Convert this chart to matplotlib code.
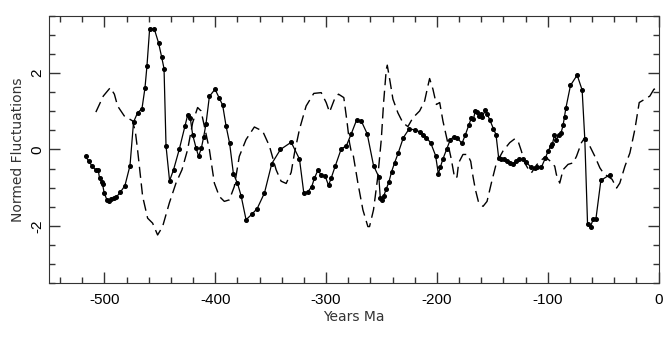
import matplotlib.pyplot as plt
from matplotlib.ticker import MultipleLocator

plt.rcParams['axes.unicode_minus'] = False

# Solid series (with dots)
solid_years = [-517, -514, -511, -508, -505.6, -504.4, -502.6, -501.7, -500.2, -497.7,
               -495.9, -493.6, -491.1, -489.3, -485.7, -481.5, -476.9, -473.7, -470.1, -466.1,
               -463.4, -461.6, -459.2, -455.0, -451.1, -448.4, -446.2, -444.4, -441.2, -437.6,
               -432.4, -427.3, -424.9, -422.5, -420.4, -417.3, -415.0, -412.5, -410.5, -408.3,
               -405.3, -400.2, -396.3, -393.3, -390.2, -387.0, -383.6, -380.0, -376.7, -372.2,
               -367.1, -362.2, -355.6, -349.0, -341.2, -331.5, -324.0, -320.1, -316.5, -312.9,
               -310.5, -307.5, -304.4, -300.8, -297.8, -295.4, -291.8, -286.3, -281.8, -277.3,
               -272.5, -268.3, -262.9, -257.2, -252.4, -251.1, -249.7, -248.1, -245.7, -243.4,
               -240.9, -238.2, -234.9, -230.3, -225.3, -219.5, -215.6, -212.6, -209.6, -205.7,
               -201.2, -198.7, -196.9, -194.6, -191.0, -187.9, -184.9, -181.9, -177.4, -174.3,
               -171.4, -168.9, -167.1, -165.3, -163.8, -162.3, -160.5, -159.3, -156.3, -154.5,
               -152.1, -149.1, -146.7, -144.3, -141.8, -139.5, -137.0, -134.0, -131.0, -128.6,
               -125.9, -122.3, -119.3, -115.4, -111.7, -109.3, -105.7, -102.1, -99.7, -97.3,
               -95.8, -94.0, -92.2, -90.3, -88.0, -86.2, -84.9, -83.7, -79.5, -73.5,
               -69.0, -66.6, -64.1, -61.4, -59.1, -56.6, -52.1, -44.0]
solid_values = [-0.18, -0.31, -0.44, -0.53, -0.54, -0.75, -0.85, -0.90, -1.14, -1.32,
                -1.34, -1.30, -1.27, -1.25, -1.12, -0.95, -0.42, 0.72, 0.96, 1.07,
                1.61, 2.19, 3.16, 3.16, 2.79, 2.43, 2.12, 0.09, -0.82, -0.53,
                0.01, 0.62, 0.90, 0.82, 0.39, 0.04, -0.18, 0.04, 0.32, 0.68,
                1.39, 1.58, 1.34, 1.16, 0.61, 0.16, -0.64, -0.88, -1.21, -1.84,
                -1.70, -1.55, -1.14, -0.37, 0.0, 0.19, -0.25, -1.14, -1.11, -0.97,
                -0.75, -0.55, -0.66, -0.70, -0.94, -0.75, -0.44, 0.02, 0.09, 0.41,
                0.77, 0.75, 0.41, -0.42, -0.72, -1.27, -1.32, -1.23, -1.03, -0.86,
                -0.58, -0.35, -0.09, 0.31, 0.53, 0.52, 0.46, 0.39, 0.31, 0.18,
                -0.16, -0.64, -0.46, -0.25, 0.02, 0.26, 0.33, 0.31, 0.16, 0.39,
                0.63, 0.83, 0.80, 1.01, 0.97, 0.88, 0.94, 0.84, 1.03, 0.92,
                0.76, 0.55, 0.39, -0.22, -0.25, -0.26, -0.31, -0.35, -0.39, -0.31,
                -0.26, -0.26, -0.33, -0.46, -0.48, -0.46, -0.46, -0.22, -0.04, 0.09,
                0.15, 0.37, 0.26, 0.38, 0.44, 0.63, 0.86, 1.08, 1.68, 1.95,
                1.56, 0.28, -1.96, -2.02, -1.83, -1.83, -0.81, -0.66]

# Dashed series
dashed_years = [-507.7, -501, -494.7, -491, -488.1, -482.1, -474.6, -472, -470.1, -465.5,
                -461.0, -456.5, -452.0, -447.5, -441.4, -435.4, -430.0, -424.9, -420.4, -415.9,
                -412.8, -409.8, -405.3, -400.8, -396.3, -391.8, -387.3, -382.8, -378.3, -372.2,
                -364.7, -357.2, -351.1, -345.1, -340.6, -336.0, -331.5, -328.5, -324.0, -318.0,
                -311.1, -304.4, -299.9, -296.9, -292.4, -288.8, -284.0, -281.0, -278.9, -277.0,
                -275.5, -271.3, -266.8, -262.3, -260.8, -257.2, -253.3, -250.2, -248.1, -245.7,
                -244.8, -242.1, -239.7, -235.2, -230.7, -226.2, -221.7, -215.6, -211.1, -208.1,
                -206.6, -203.6, -200.5, -197.5, -194.6, -191.0, -187.0, -184.0, -181.9, -180.4,
                -176.5, -172.5, -169.5, -167.5, -165.3, -162.3, -158.4, -154.8, -150.9, -146.3,
                -140.4, -134.3, -129.8, -126.8, -123.8, -120.8, -117.2, -114.7, -110.0, -105.1,
                -102.1, -98.0, -93.7, -92.2, -89.2, -86.2, -81.7, -77.1, -74.1, -69.6,
                -66.6, -62.1, -57.5, -53.0, -50.0, -47.0, -42.0, -37.9, -35.0, -30.4,
                -25.9, -21.4, -17.5, -12.4, -7.9, -4.2, 0.0]
dashed_values = [0.98, 1.40, 1.62, 1.45, 1.14, 0.88, 0.75, 0.45, 0.0, -1.23,
                 -1.80, -1.93, -2.24, -2.02, -1.40, -0.88, -0.53, 0.0, 0.70, 1.10,
                 1.01, 0.61, 0.0, -0.88, -1.23, -1.36, -1.32, -0.97, -0.18, 0.26,
                 0.59, 0.48, 0.09, -0.53, -0.83, -0.89, -0.60, -0.09, 0.53, 1.14,
                 1.47, 1.49, 1.23, 0.98, 1.32, 1.45, 1.36, 0.70, 0.18, -0.10,
                 -0.15, -0.88, -1.58, -2.02, -2.02, -1.58, -0.70, 0.26, 1.23, 2.10,
                 2.21, 1.75, 1.32, 0.96, 0.70, 0.60, 0.83, 1.01, 1.27, 1.67,
                 1.86, 1.58, 1.18, 1.23, 0.75, 0.28, -0.26, -0.75, -0.72, -0.35,
                 -0.13, -0.13, -0.31, -0.70, -1.05, -1.40, -1.49, -1.36, -0.88, -0.35,
                 -0.04, 0.18, 0.28, 0.22, -0.04, -0.35, -0.53, -0.61, -0.40, -0.26,
                 -0.19, -0.30, -0.44, -0.66, -0.88, -0.53, -0.39, -0.35, -0.18, 0.18,
                 0.31, 0.09, -0.18, -0.48, -0.61, -0.68, -0.78, -1.01, -0.88, -0.44,
                 -0.09, 0.53, 1.23, 1.32, 1.40, 1.58, 1.60]

fig = plt.figure(figsize=(6.7, 3.39), dpi=100)
ax = fig.add_axes([0.0731, 0.165, 0.9099, 0.788])

ax.plot(dashed_years, dashed_values, color="black", linewidth=1.0,
        linestyle=(0, (8, 4)))
ax.plot(solid_years, solid_values, color="black", linewidth=0.9,
        marker="o", markersize=2.6)

ax.set_xlim(-550, 0)
ax.set_ylim(-3.5, 3.5)
ax.xaxis.set_major_locator(MultipleLocator(100))
ax.xaxis.set_minor_locator(MultipleLocator(20))
ax.yaxis.set_major_locator(MultipleLocator(2))
ax.yaxis.set_minor_locator(MultipleLocator(0.5))
ax.tick_params(which="both", direction="in", top=True, right=True,
               colors="#333333", labelcolor="black")
ax.tick_params(which="major", length=8, width=1, labelsize=11)
ax.tick_params(which="minor", length=4, width=1)
ax.tick_params(axis="x", which="major", pad=7)
for lbl in ax.get_xticklabels() + ax.get_yticklabels():
    lbl.set_family("Liberation Sans")
for lbl in ax.get_yticklabels():
    lbl.set_rotation(90)
    lbl.set_va("center")
for spine in ax.spines.values():
    spine.set_color("#333333")

ax.set_xlabel("Years Ma", fontsize=10, color="#333333", labelpad=2)
ax.set_ylabel("Normed Fluctuations", fontsize=10, color="#333333", labelpad=4)

plt.savefig("out.png", dpi=100)
